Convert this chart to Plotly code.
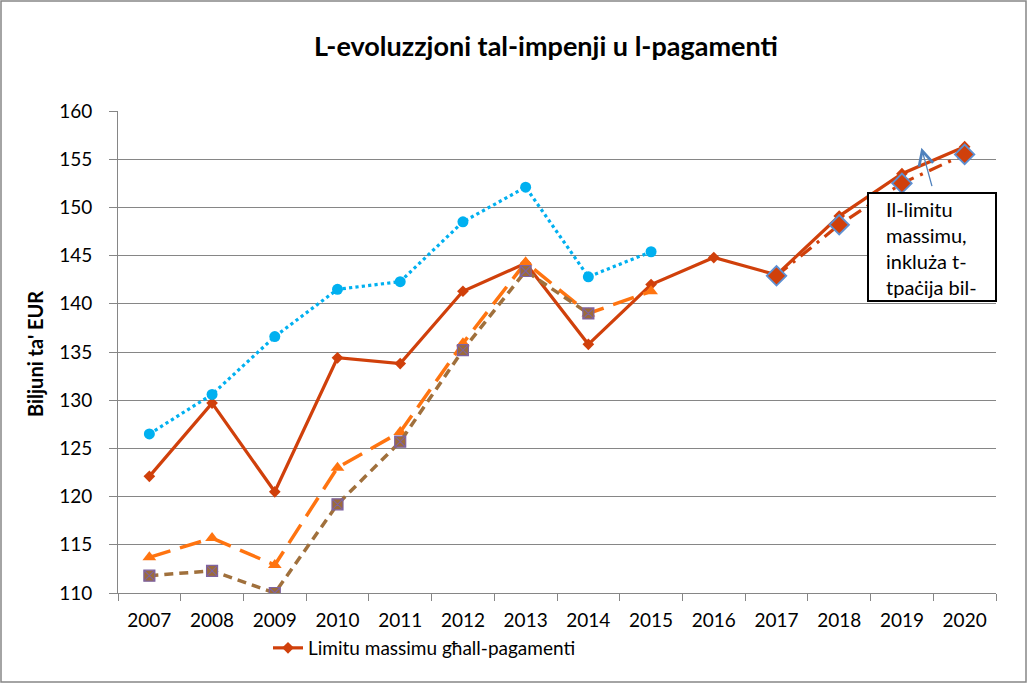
import plotly.graph_objects as go

years = [str(y) for y in range(2007, 2021)]

limit_pay = [122.1, 129.7, 120.5, 134.4, 133.8, 141.3, 144.2, 135.8, 142.0, 144.8, 143.0, 149.1, 153.5, 156.3]
blue_years = years[:9]
blue_vals = [126.5, 130.6, 136.6, 141.5, 142.3, 148.5, 152.1, 142.8, 145.4]
orange_years = years[:9]
orange_vals = [113.7, 115.7, 112.9, 123.0, 126.7, 135.9, 144.3, 139.0, 141.3]
brown_years = years[:8]
brown_vals = [111.8, 112.3, 110.0, 119.2, 125.7, 135.2, 143.4, 139.0]
incl_years = years[10:]
incl_vals = [142.9, 148.2, 152.5, 155.5]

title_text = "L-evoluzzjoni tal-impenji u l-pagamenti"
ytitle_text = "Biljuni ta' EUR"
legend_name = "Limitu massimu għall-pagamenti"
box_text = "Il-limitu<br>massimu,<br>inkluża t-<br>tpaċija bil-"

FONT = "Lato, Carlito, 'Open Sans', sans-serif"
RED = "#D0400B"
BLUE = "#00B0F0"
ORANGE = "#FF7410"
BROWN = "#A0703C"

fig = go.Figure()

fig.add_trace(go.Scatter(
    x=years, y=limit_pay, name=legend_name, mode="lines+markers",
    line=dict(color=RED, width=3.2),
    marker=dict(symbol="diamond", size=9, color=RED),
    showlegend=True))

fig.add_trace(go.Scatter(
    x=blue_years, y=blue_vals, name="blue", mode="lines+markers",
    line=dict(color=BLUE, width=3.2, dash="dot"),
    marker=dict(symbol="circle", size=11, color=BLUE),
    showlegend=False))

fig.add_trace(go.Scatter(
    x=orange_years, y=orange_vals, name="orange", mode="lines+markers",
    line=dict(color=ORANGE, width=3.5, dash="22px,10px"),
    marker=dict(symbol="triangle-up", size=12, color=ORANGE),
    showlegend=False))

fig.add_trace(go.Scatter(
    x=brown_years, y=brown_vals, name="brown", mode="lines+markers",
    line=dict(color=BROWN, width=3.5, dash="9px,6px"),
    marker=dict(symbol="square-x", size=11, color="#9C6B3A",
                line=dict(color="#7F63A0", width=1.2)),
    showlegend=False))

fig.add_trace(go.Scatter(
    x=incl_years, y=incl_vals, name="incl", mode="lines+markers",
    line=dict(color=RED, width=3.2, dash="14px,7px,3px,7px"),
    marker=dict(symbol="diamond", size=15, color=RED,
                line=dict(color="#5E90D2", width=1.8)),
    showlegend=False))

# plot area: x 118..996, y 111..593
PX0, PX1, PY0, PY1 = 118, 996, 111, 593
W = PX1 - PX0
H = PY1 - PY0

def px(x):
    return (x - PX0) / W

def py(y):
    return (PY1 - y) / H

shapes = [
    # outer chart border
    dict(type="rect", xref="paper", yref="paper",
         x0=px(1), x1=px(1026), y0=py(682), y1=py(1),
         line=dict(color="#868686", width=1.5), fillcolor="rgba(0,0,0,0)", layer="below"),
    # text box
    dict(type="rect", xref="paper", yref="paper",
         x0=px(868), x1=px(996), y0=py(301), y1=py(193),
         line=dict(color="black", width=2), fillcolor="white", layer="above"),
]

annotations = [
    dict(x=12.31, y=156.2, xref="x", yref="y", ax=11, ay=40, text="",
         showarrow=True, arrowhead=5, arrowsize=2.2, arrowwidth=1.3,
         arrowcolor="#4F81BD"),
    dict(x=px(884), y=py(248), xref="paper", yref="paper", text=box_text,
         showarrow=False, xanchor="left", yanchor="middle", align="left",
         font=dict(family=FONT, size=20, color="black")),
    dict(x=px(35), y=py(354), xref="paper", yref="paper", text="<b>" + ytitle_text + "</b>",
         showarrow=False, textangle=-90, xanchor="center", yanchor="middle",
         font=dict(family=FONT, size=20, color="black")),
]

fig.update_layout(
    width=1027, height=683,
    margin=dict(l=PX0, r=1027 - PX1, t=PY0, b=683 - PY1, pad=0),
    paper_bgcolor="white", plot_bgcolor="white",
    font=dict(family=FONT, size=19, color="black"),
    title=dict(text="<b>" + title_text + "</b>", x=(546) / 1027, xanchor="center",
               y=1 - 47 / 683, yanchor="middle",
               font=dict(family=FONT, size=27, color="black")),
    showlegend=True,
    legend=dict(x=px(268), y=py(648), xanchor="left", yanchor="middle",
                orientation="h", bgcolor="rgba(0,0,0,0)",
                font=dict(family=FONT, size=19, color="black")),
    shapes=shapes, annotations=annotations,
)

fig.update_xaxes(
    type="category", categoryorder="array", categoryarray=years,
    range=[-0.5, 13.5], showgrid=False, showline=True, linecolor="#868686", linewidth=1,
    ticks="outside", tickson="boundaries", ticklen=7, tickcolor="#868686",
    tickfont=dict(family=FONT, size=19, color="black"), ticklabelstandoff=10,
    zeroline=False, fixedrange=True)

fig.update_yaxes(
    range=[110, 160], dtick=5, tick0=110, showgrid=True, gridcolor="#868686", gridwidth=1,
    showline=True, linecolor="#868686", linewidth=1,
    ticks="outside", ticklen=8, tickcolor="#868686",
    tickfont=dict(family=FONT, size=19, color="black"), ticklabelstandoff=13,
    zeroline=False, fixedrange=True)

fig.write_html("out.html", config={"displayModeBar": False},
               post_script="document.body.style.margin='0px';")
